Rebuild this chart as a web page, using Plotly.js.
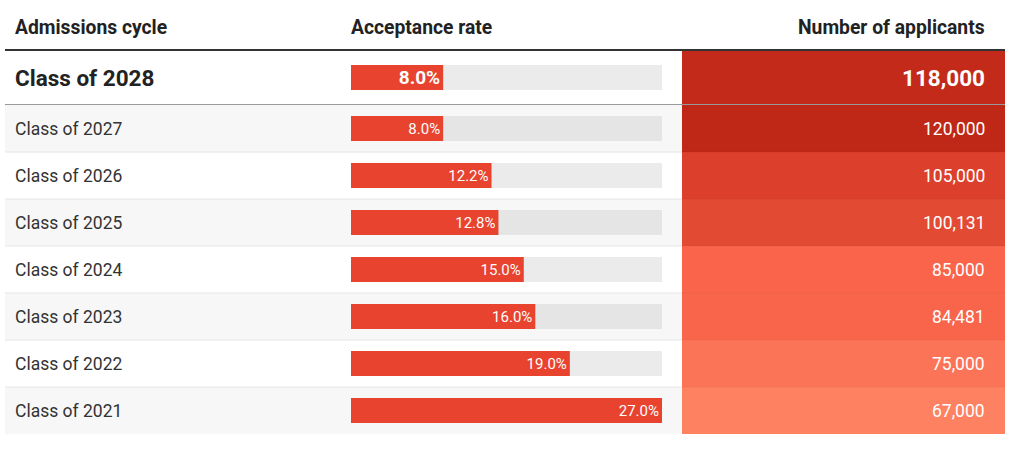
<!DOCTYPE html>
<html><head><meta charset="utf-8">
<script src="https://cdn.plot.ly/plotly-3.0.1.min.js"></script>
<style>html,body{margin:0;padding:0;background:#fff;overflow:hidden}</style>
</head><body><div id="chart" style="width:1020px;height:451px"></div>
<script>
// ---- data ----
const cycles = ['Class of 2028','Class of 2027','Class of 2026','Class of 2025','Class of 2024','Class of 2023','Class of 2022','Class of 2021'];
const rates = [8.0, 8.0, 12.2, 12.8, 15.0, 16.0, 19.0, 27.0];
const applicants = [118000, 120000, 105000, 100131, 85000, 84481, 75000, 67000];
const headers = ['Admissions cycle', 'Acceptance rate', 'Number of applicants'];
// colour ramp for the applicants column (value -> colour)
const rampValues = [67000, 75000, 85000, 100000, 105000, 120000];
const rampColors = ['#fe8262', '#fc7458', '#f9644a', '#e34a33', '#dc3f2b', '#bf2717'];

// ---- layout geometry (pixels) ----
const W = 1020, H = 451;
const left = 5, right = 1005;
const barX0 = 351, barX1 = 662, heatX0 = 682, numRight = 986, labelX = 14;
const headerY = 27.5, topLine = 50, firstBottom = 105, rowH = 47, barH = 25;

const n = cycles.length;
const edges = [topLine, firstBottom];
for (let i = 1; i < n; i++) edges.push(firstBottom + i * rowH);
const centers = cycles.map((c, i) => (edges[i] + edges[i + 1]) / 2);
const maxRate = Math.max(...rates);

const fmt = v => v.toLocaleString('en-US');

// colourscale from ramp
const zmin = rampValues[0], zmax = rampValues[rampValues.length - 1];
const colorscale = rampValues.map((v, i) => [(v - zmin) / (zmax - zmin), rampColors[i]]);

const grayRow = i => i > 0 && i % 2 === 1;

const traces = [
  { // track
    type: 'bar', orientation: 'h', xaxis: 'x2', yaxis: 'y',
    y: centers, x: rates.map(() => maxRate), width: barH,
    marker: { color: rates.map((r, i) => grayRow(i) ? '#e5e5e5' : '#ebebeb') },
    hoverinfo: 'skip', showlegend: false
  },
  { // value bars
    type: 'bar', orientation: 'h', xaxis: 'x2', yaxis: 'y',
    y: centers, x: rates, width: barH,
    marker: { color: '#e8432f' },
    text: rates.map((r, i) => i === 0 ? '<b>' + r.toFixed(1) + '%</b>' : r.toFixed(1) + '%'),
    textposition: 'inside', insidetextanchor: 'end',
    textfont: { family: 'Roboto', color: '#fdfdfd', size: rates.map((r, i) => i === 0 ? 19 : 15) },
    constraintext: 'none', cliponaxis: false,
    hoverinfo: 'skip', showlegend: false
  },
  { // applicants heat column
    type: 'heatmap', xaxis: 'x3', yaxis: 'y',
    x: [0, 1], y: edges,
    z: applicants.map(v => [v]),
    zmin: zmin, zmax: zmax, colorscale: colorscale,
    showscale: false, hoverinfo: 'skip'
  }
];

const shapes = [];
// grey row backgrounds
cycles.forEach((c, i) => {
  if (grayRow(i)) shapes.push({ type: 'rect', xref: 'x', yref: 'y', x0: left, x1: heatX0, y0: edges[i], y1: edges[i + 1], fillcolor: '#f7f7f7', line: { width: 0 }, layer: 'below' });
});
// thin separators
for (let i = 2; i < n; i++) {
  shapes.push({ type: 'line', xref: 'x', yref: 'y', x0: left, x1: heatX0, y0: edges[i], y1: edges[i], line: { color: '#e6e6e6', width: 1 }, layer: 'below' });
  shapes.push({ type: 'line', xref: 'x', yref: 'y', x0: heatX0, x1: right, y0: edges[i], y1: edges[i], line: { color: 'rgba(0,0,0,0.04)', width: 1 }, layer: 'above' });
}
// line under highlighted row
shapes.push({ type: 'line', xref: 'x', yref: 'y', x0: left, x1: right, y0: edges[1] - 0.5, y1: edges[1] - 0.5, line: { color: '#999999', width: 1 }, layer: 'above' });
// header line
shapes.push({ type: 'line', xref: 'x', yref: 'y', x0: left, x1: right, y0: topLine, y1: topLine, line: { color: '#333333', width: 2 }, layer: 'above' });

const annotations = [];
const hdrFont = { family: 'Roboto', size: 19.3, color: '#222222', weight: 'bold' };
annotations.push({ xref: 'x', yref: 'y', x: labelX, y: headerY, text: '<b>' + headers[0] + '</b>', xanchor: 'left', yanchor: 'middle', showarrow: false, font: hdrFont, borderpad: 0 });
annotations.push({ xref: 'x', yref: 'y', x: barX0 - 1, y: headerY, text: '<b>' + headers[1] + '</b>', xanchor: 'left', yanchor: 'middle', showarrow: false, font: hdrFont, borderpad: 0 });
annotations.push({ xref: 'x', yref: 'y', x: numRight, y: headerY, text: '<b>' + headers[2] + '</b>', xanchor: 'right', yanchor: 'middle', showarrow: false, font: hdrFont, borderpad: 0 });

cycles.forEach((c, i) => {
  const first = i === 0;
  annotations.push({ xref: 'x', yref: 'y', x: labelX, y: centers[i], text: first ? '<b>' + c + '</b>' : c,
    xanchor: 'left', yanchor: 'middle', showarrow: false, borderpad: 0,
    font: { family: 'Roboto', size: first ? 22.5 : 17.5, color: first ? '#222222' : '#333333' } });
  annotations.push({ xref: 'x', yref: 'y', x: numRight, y: centers[i], text: first ? '<b>' + fmt(applicants[i]) + '</b>' : fmt(applicants[i]),
    xanchor: 'right', yanchor: 'middle', showarrow: false, borderpad: 0,
    font: { family: 'Roboto', size: first ? 22.5 : 17.5, color: '#ffffff' } });
});

const hidden = { visible: false, fixedrange: true, showgrid: false, zeroline: false };
const layout = {
  width: W, height: H,
  margin: { l: 0, r: 0, t: 0, b: 0, pad: 0 },
  paper_bgcolor: '#ffffff', plot_bgcolor: 'rgba(0,0,0,0)',
  barmode: 'overlay', showlegend: false,
  font: { family: 'Roboto', color: '#333333' },
  xaxis: Object.assign({ range: [0, W], domain: [0, 1] }, hidden),
  xaxis2: Object.assign({ range: [0, maxRate], domain: [barX0 / W, barX1 / W], anchor: 'y' }, hidden),
  xaxis3: Object.assign({ range: [0, 1], domain: [heatX0 / W, right / W], anchor: 'y' }, hidden),
  yaxis: Object.assign({ range: [H, 0], domain: [0, 1] }, hidden),
  shapes: shapes,
  annotations: annotations
};

Plotly.newPlot('chart', traces, layout, { staticPlot: true, displayModeBar: false });
</script>
</body></html>
